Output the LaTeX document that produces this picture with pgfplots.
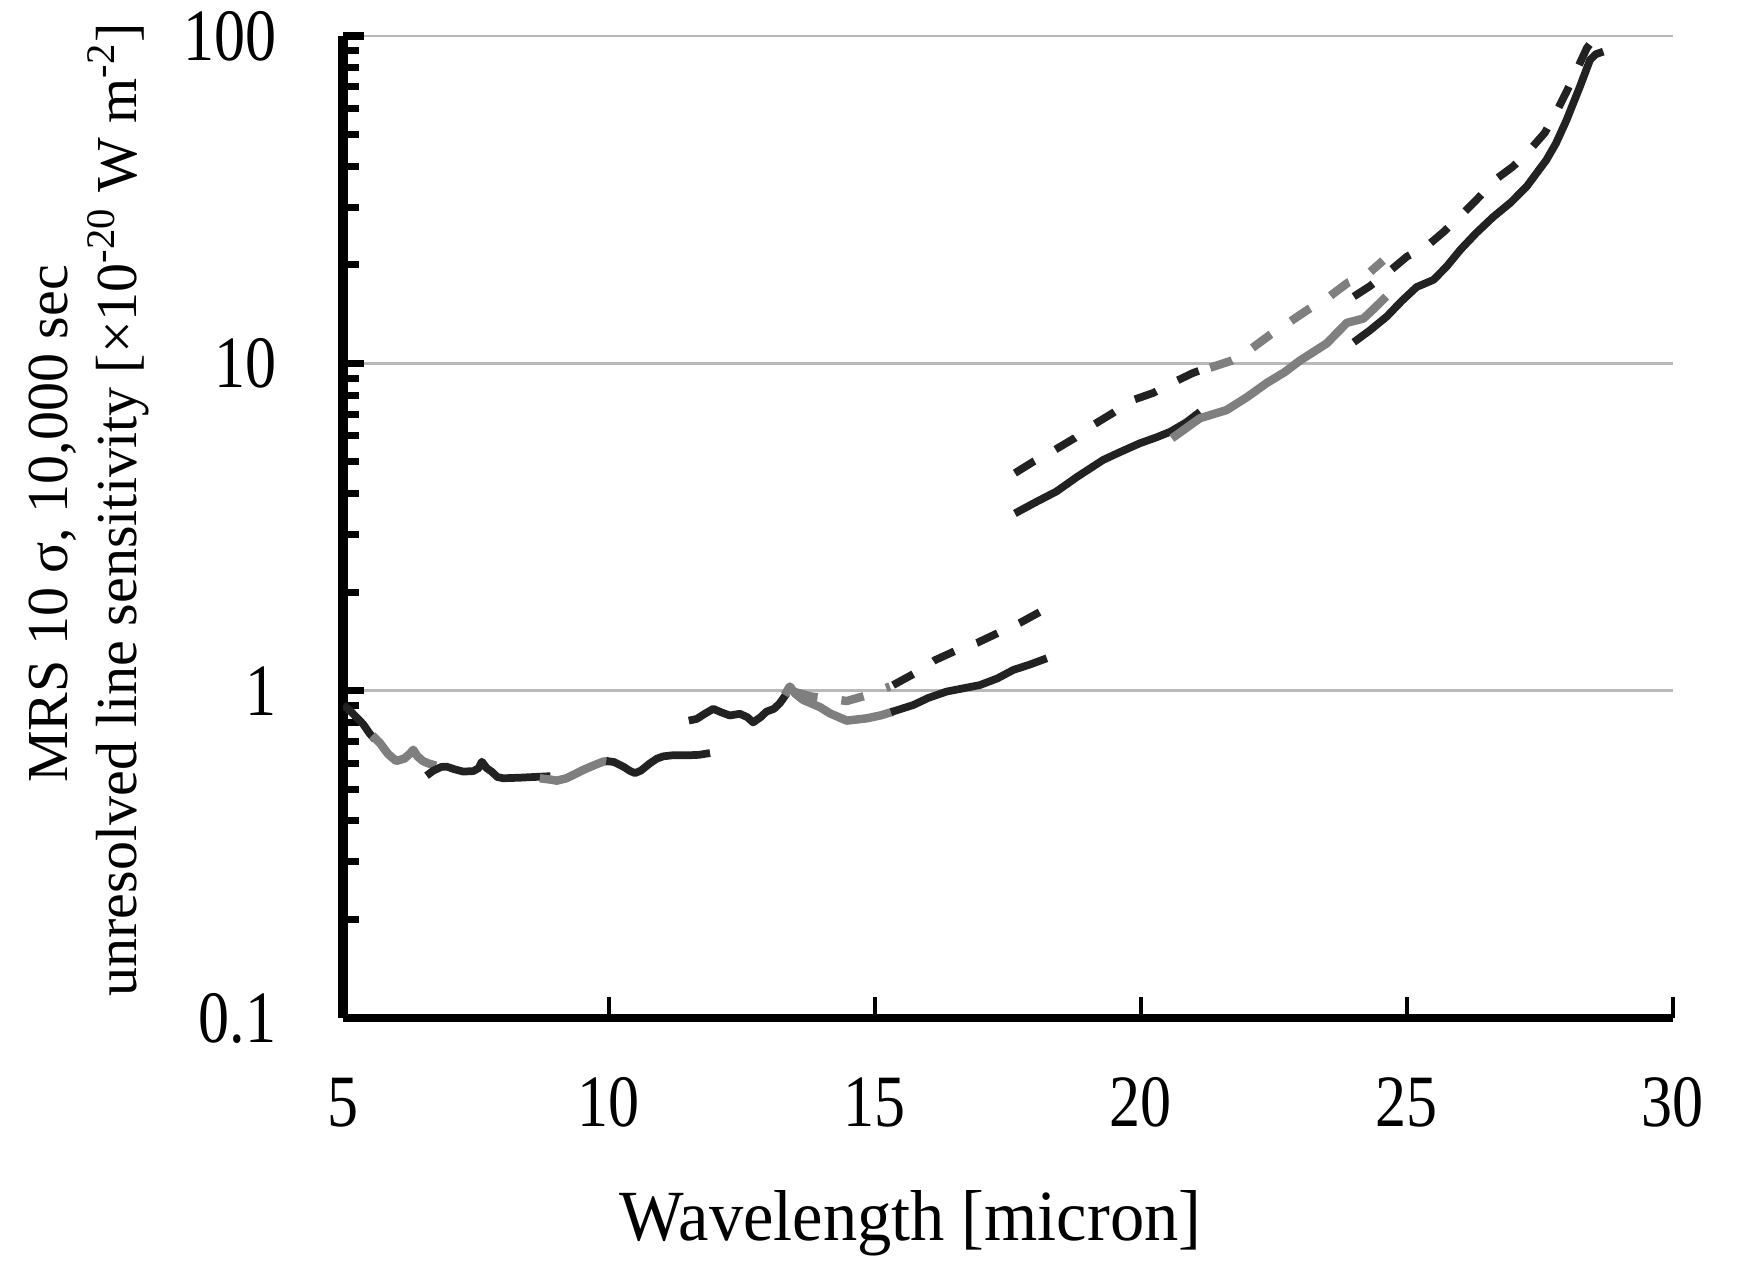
\documentclass[border=0pt]{standalone}
\usepackage{fontspec}
\setmainfont{Liberation Serif}
\newfontfamily\tickfont[FakeStretch=0.84]{Liberation Serif}
\newfontfamily\labfont[FakeStretch=0.95]{Liberation Serif}
\usepackage{pgfplots}
\pgfplotsset{compat=1.18}
\definecolor{dk}{HTML}{222222}
\definecolor{gr}{HTML}{7F7F7F}
\definecolor{gridc}{HTML}{B8B8B8}
\begin{document}
\begin{tikzpicture}
\useasboundingbox (-34.3mm,-26.6mm) rectangle (139.4mm,101.8mm);
\begin{axis}[
  at={(0,0)}, anchor=south west,
  scale only axis, width=133mm, height=98.2mm,
  xmin=5, xmax=30, ymin=0.1, ymax=100, ymode=log,
  axis x line=bottom, axis y line=left,
  x axis line style={line width=2.5pt, -},
  y axis line style={line width=2.6pt, -},
  xtick={5,10,15,20,25,30}, xticklabels={5,10,15,20,25,30},
  ytick={0.1,1,10,100}, yticklabels={0.1,1,10,100},
  minor ytick={0.2,0.3,0.4,0.5,0.6,0.7,0.8,0.9,2,3,4,5,6,7,8,9,20,30,40,50,60,70,80,90},
  tick align=inside,
  major tick length=2.1mm, minor tick length=1.6mm,
  xtick style={line width=1.0pt, black},
  ytick style={line width=2.0pt, black},
  ymajorgrids, major grid style={gridc, line width=0.85pt},
  xticklabel style={font=\tickfont\fontsize{21}{21}\selectfont, anchor=north, inner sep=0pt, yshift=-5.9mm},
  yticklabel style={font=\tickfont\fontsize{21}{21}\selectfont, anchor=east, inner sep=0pt, xshift=-6.6mm},
  xlabel={Wavelength [micron]},
  xlabel style={font=\labfont\fontsize{20.5}{20.5}\selectfont, at={(rel axis cs:0.4267,0)}, anchor=base, inner sep=0pt, yshift=-22.2mm},
  every axis plot/.append style={line join=round},
]
% Channel 1-2 (short wavelengths)
\addplot[dk, line width=2.2pt] coordinates {(5.0,0.90) (5.1,0.88) (5.25,0.83) (5.38,0.79) (5.5,0.74) (5.6,0.71)};
\addplot[gr, line width=2.4pt] coordinates {(5.55,0.73) (5.7,0.69) (5.85,0.64) (6.0,0.61) (6.15,0.62) (6.25,0.64) (6.32,0.66) (6.4,0.63) (6.5,0.61) (6.6,0.60) (6.75,0.59)};
\addplot[dk, line width=2.2pt] coordinates {(6.57,0.55) (6.7,0.57) (6.85,0.585) (6.95,0.586) (7.1,0.575) (7.26,0.566) (7.45,0.568) (7.55,0.58) (7.61,0.607) (7.7,0.58) (7.8,0.565) (7.9,0.545) (8.01,0.54) (8.3,0.542) (8.6,0.545) (8.9,0.548)};
\addplot[gr, line width=2.4pt] coordinates {(8.7,0.54) (8.9,0.535) (9.02,0.531) (9.2,0.54) (9.35,0.555) (9.52,0.573) (9.7,0.59) (9.89,0.607) (10.0,0.61)};
\addplot[dk, line width=2.2pt] coordinates {(9.95,0.61) (10.1,0.605) (10.27,0.586) (10.4,0.568) (10.49,0.56) (10.6,0.57) (10.77,0.60) (10.9,0.62) (11.02,0.63) (11.2,0.635) (11.52,0.635) (11.7,0.637) (11.9,0.645)};
\addplot[dk, line width=2.2pt] coordinates {(11.5,0.81) (11.65,0.82) (11.8,0.85) (11.96,0.88) (12.1,0.86) (12.27,0.84) (12.46,0.85) (12.6,0.83) (12.71,0.80) (12.85,0.83) (12.96,0.863) (13.1,0.88) (13.21,0.915) (13.34,0.98)};
\addplot[gr, line width=2.4pt] coordinates {(13.3,0.97) (13.4,1.03) (13.5,0.98) (13.65,0.937) (13.97,0.89) (14.15,0.853) (14.47,0.81) (14.84,0.823) (15.1,0.84) (15.34,0.863)};
\addplot[dk, line width=2.2pt] coordinates {(15.3,0.86) (15.72,0.904) (16.0,0.95) (16.35,0.994) (16.97,1.04) (17.3,1.09) (17.6,1.157) (17.9,1.20) (18.23,1.256)};
\addplot[gr, line width=2.4pt, dash pattern=on 2.3mm off 2.4mm] coordinates {(13.5,0.99) (13.8,0.96) (14.03,0.95) (14.47,0.93) (14.87,0.97) (15.28,1.03)};
\addplot[dk, line width=2.2pt, dash pattern=on 2.3mm off 2.4mm] coordinates {(15.34,1.04) (15.79,1.14) (16.13,1.24) (16.54,1.33) (16.92,1.40) (17.31,1.50) (17.72,1.61) (18.10,1.74) (18.2,1.77)};
% Channel 3-4 (long wavelengths)
\addplot[dk, line width=2.2pt] coordinates {(17.63,3.48) (18.0,3.75) (18.41,4.06) (18.8,4.5) (19.29,5.07) (19.6,5.35) (19.98,5.70) (20.3,5.95) (20.55,6.18) (20.85,6.6) (21.11,7.11)};
\addplot[dk, line width=2.2pt, dash pattern=on 2.3mm off 2.4mm] coordinates {(17.63,4.62) (17.97,5.0) (18.38,5.44) (18.76,5.92) (19.10,6.48) (19.47,7.05) (19.85,7.73) (20.23,8.12) (20.58,8.7) (20.98,9.35) (21.1,9.5)};
\addplot[gr, line width=2.4pt] coordinates {(20.58,5.90) (21.11,6.80) (21.61,7.20) (22.0,7.9) (22.36,8.70) (22.7,9.4) (22.99,10.2) (23.49,11.5) (23.87,13.3) (24.18,13.7) (24.4,14.8) (24.61,16.0)};
\addplot[gr, line width=2.4pt, dash pattern=on 2.3mm off 2.4mm] coordinates {(21.30,9.7) (21.71,10.2) (22.08,11.1) (22.42,12.2) (22.80,13.4) (23.14,14.6) (23.52,15.9) (23.88,17.6) (24.24,18.6) (24.55,20.6)};
\addplot[dk, line width=2.2pt] coordinates {(24.0,11.6) (24.3,12.6) (24.62,13.9) (24.9,15.5) (25.18,17.1) (25.5,18.0) (25.75,19.8) (26.0,22.2) (26.3,25.0) (26.62,28.0) (26.95,31.0) (27.25,34.7) (27.62,41.8) (27.8,47) (28.0,55.4) (28.25,70) (28.44,84.5) (28.55,88) (28.69,89.6)};
\addplot[dk, line width=2.2pt, dash pattern=on 2.3mm off 2.4mm] coordinates {(24.0,16.0) (24.3,17.2) (24.7,19.3) (25.0,21.2) (25.4,23.0) (25.7,25.3) (26.06,28.8) (26.34,32.0) (26.65,36.3) (26.99,39.9) (27.31,44.9) (27.59,50.6) (27.81,58.7) (28.0,67.6) (28.19,78.7) (28.38,91.8) (28.45,95)};
\end{axis}
\node[rotate=90, anchor=base, inner sep=0pt, font=\fontsize{16.5}{16.5}\selectfont] at ([xshift=-27.5mm, yshift=49.4mm]current axis.south west) {MRS 10 σ, 10,000 sec};
\node[rotate=90, anchor=base, inner sep=0pt, font=\fontsize{16.5}{16.5}\selectfont] at ([xshift=-20.6mm, yshift=50.8mm]current axis.south west) {unresolved line sensitivity [×10\textsuperscript{-20} W m\textsuperscript{-2}]};
\end{tikzpicture}
\end{document}
